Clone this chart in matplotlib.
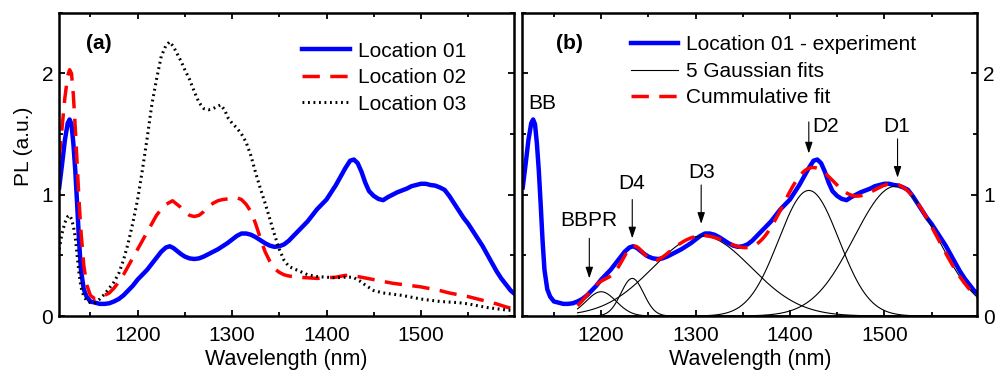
import numpy as np
import matplotlib.pyplot as plt
from matplotlib.ticker import MultipleLocator

plt.rcParams['font.family'] = ['Liberation Sans', 'DejaVu Sans']

# Location 01 (blue, same spectrum in both panels)
wl_01 = [1117, 1120, 1123, 1126, 1128, 1130, 1132, 1134, 1136, 1138, 1140, 1143, 1146, 1150,
         1155, 1160, 1165, 1170, 1175, 1180, 1185, 1190, 1195, 1200, 1205, 1210, 1215, 1220,
         1225, 1230, 1234, 1238, 1242, 1246, 1250, 1255, 1260, 1265, 1270, 1275, 1280, 1285,
         1290, 1295, 1300, 1305, 1310, 1315, 1320, 1325, 1330, 1335, 1340, 1345, 1350, 1355,
         1360, 1365, 1370, 1375, 1380, 1385, 1390, 1395, 1400, 1405, 1410, 1415, 1420, 1425,
         1429, 1433, 1437, 1441, 1445, 1450, 1455, 1460, 1465, 1470, 1475, 1480, 1485, 1490,
         1495, 1500, 1505, 1510, 1515, 1520, 1525, 1530, 1535, 1540, 1545, 1550, 1555, 1560,
         1565, 1570, 1575, 1580, 1585, 1590, 1595, 1598]
pl_01 = [1.06, 1.25, 1.45, 1.59, 1.62, 1.58, 1.42, 1.20, 0.92, 0.62, 0.38, 0.22, 0.16, 0.12,
         0.11, 0.10, 0.10, 0.105, 0.12, 0.14, 0.17, 0.21, 0.25, 0.30, 0.34, 0.38, 0.43, 0.48,
         0.53, 0.565, 0.575, 0.56, 0.535, 0.51, 0.49, 0.475, 0.47, 0.475, 0.49, 0.51, 0.53, 0.55,
         0.575, 0.60, 0.63, 0.66, 0.68, 0.68, 0.67, 0.65, 0.625, 0.60, 0.58, 0.57, 0.575, 0.59,
         0.62, 0.66, 0.70, 0.74, 0.78, 0.83, 0.88, 0.92, 0.96, 1.02, 1.08, 1.15, 1.22, 1.28,
         1.29, 1.26, 1.19, 1.10, 1.03, 0.99, 0.965, 0.955, 0.98, 1.00, 1.02, 1.035, 1.05, 1.07,
         1.08, 1.09, 1.09, 1.08, 1.075, 1.06, 1.04, 0.99, 0.93, 0.87, 0.81, 0.76, 0.70, 0.64,
         0.58, 0.51, 0.44, 0.37, 0.31, 0.26, 0.21, 0.19]

# Location 02 (red dashed)
wl_02 = [1117, 1120, 1123, 1126, 1128, 1130, 1132, 1134, 1136, 1138, 1140, 1143, 1146, 1150,
         1155, 1160, 1165, 1170, 1175, 1180, 1185, 1190, 1195, 1200, 1205, 1210, 1215, 1220,
         1225, 1230, 1237, 1245, 1250, 1255, 1260, 1265, 1270, 1275, 1280, 1285, 1290, 1295,
         1300, 1305, 1310, 1315, 1320, 1325, 1330, 1335, 1340, 1345, 1350, 1355, 1360, 1370,
         1380, 1390, 1400, 1410, 1420, 1430, 1440, 1450, 1460, 1470, 1480, 1490, 1500, 1510,
         1520, 1530, 1540, 1550, 1560, 1570, 1580, 1590, 1598]
pl_02 = [1.30, 1.55, 1.80, 1.98, 2.03, 2.00, 1.82, 1.55, 1.25, 0.95, 0.70, 0.42, 0.26, 0.17,
         0.14, 0.15, 0.17, 0.19, 0.23, 0.28, 0.34, 0.41, 0.48, 0.55, 0.62, 0.69, 0.76, 0.83,
         0.88, 0.92, 0.95, 0.90, 0.86, 0.83, 0.82, 0.83, 0.86, 0.90, 0.93, 0.95, 0.96, 0.965,
         0.97, 0.975, 0.96, 0.92, 0.86, 0.76, 0.64, 0.53, 0.45, 0.39, 0.36, 0.34, 0.33, 0.32,
         0.315, 0.31, 0.315, 0.32, 0.335, 0.33, 0.315, 0.30, 0.285, 0.27, 0.26, 0.25, 0.24, 0.225,
         0.21, 0.19, 0.175, 0.16, 0.14, 0.12, 0.10, 0.075, 0.06]

# Location 03 (black dotted)
wl_03 = [1117, 1120, 1123, 1126, 1128, 1130, 1132, 1134, 1136, 1138, 1140, 1143, 1146, 1150,
         1155, 1160, 1165, 1170, 1175, 1180, 1185, 1190, 1195, 1200, 1205, 1210, 1215, 1220,
         1225, 1230, 1234, 1238, 1242, 1246, 1250, 1255, 1260, 1265, 1270, 1275, 1280, 1285,
         1288, 1292, 1296, 1300, 1305, 1310, 1315, 1320, 1325, 1330, 1335, 1340, 1345, 1350,
         1355, 1360, 1365, 1370, 1380, 1390, 1400, 1410, 1420, 1428, 1435, 1442, 1450, 1460,
         1470, 1480, 1490, 1500, 1510, 1520, 1530, 1540, 1550, 1560, 1570, 1580, 1590, 1598]
pl_03 = [0.55, 0.68, 0.77, 0.82, 0.83, 0.80, 0.74, 0.65, 0.50, 0.35, 0.24, 0.16, 0.13, 0.11,
         0.11, 0.14, 0.18, 0.23, 0.28, 0.35, 0.46, 0.60, 0.77, 0.96, 1.20, 1.46, 1.74, 1.95,
         2.14, 2.23, 2.26, 2.22, 2.16, 2.10, 2.03, 1.95, 1.85, 1.76, 1.71, 1.70, 1.71, 1.73,
         1.74, 1.70, 1.63, 1.59, 1.55, 1.50, 1.43, 1.32, 1.18, 1.05, 0.93, 0.80, 0.67, 0.55,
         0.46, 0.41, 0.39, 0.375, 0.34, 0.325, 0.32, 0.315, 0.32, 0.32, 0.29, 0.25, 0.21, 0.19,
         0.18, 0.17, 0.155, 0.14, 0.13, 0.12, 0.115, 0.11, 0.10, 0.085, 0.07, 0.06, 0.05, 0.045]

# Gaussian fit components (panel b): BBPR, D4, D3, D2, D1
fit_names = ['BBPR', 'D4', 'D3', 'D2', 'D1']
fit_centre = [1200, 1233, 1307, 1420, 1512]
fit_height = [0.20, 0.31, 0.66, 1.035, 1.07]
fit_sigma = [16, 12, 52, 32, 44]
fit_range = [1175, 1599]

XLIM = (1116.5, 1598.5)
YLIM = (0, 2.5)
FS = 15

fig = plt.figure(figsize=(9.99, 3.72), dpi=100)
ax1 = fig.add_axes([0.0588, 0.1505, 0.4557, 0.8153])
ax2 = fig.add_axes([0.5228, 0.1505, 0.4555, 0.8153])

# panel (a)
ax1.plot(wl_01, pl_01, color='#0000ff', lw=3.2, label='Location 01')
ax1.plot(wl_02, pl_02, color='#ff0000', lw=2.5, dashes=(5, 3), label='Location 02')
ax1.plot(wl_03, pl_03, color='black', lw=2.2, dashes=(0.6, 1.2), label='Location 03')
ax1.legend(loc='upper left', bbox_to_anchor=(0.535, 0.905), frameon=False, fontsize=FS,
           handlelength=2.3, handletextpad=0.35, labelspacing=0.36, borderpad=0, borderaxespad=0)
ax1.text(0.087, 0.9, '(a)', transform=ax1.transAxes, fontsize=FS, fontweight='bold',
         ha='center', va='center')
ax1.set_ylabel('PL (a.u.)', fontsize=FS, y=0.56, labelpad=6)

# panel (b)
xs = np.linspace(fit_range[0], fit_range[1], 600)
comps = [h * np.exp(-(xs - c) ** 2 / (2 * s ** 2))
         for c, h, s in zip(fit_centre, fit_height, fit_sigma)]
ax2.plot(wl_01, pl_01, color='#0000ff', lw=3.2, label='Location 01 - experiment')
for i, g in enumerate(comps):
    ax2.plot(xs, g, color='black', lw=0.8, label='5 Gaussian fits' if i == 0 else None)
ax2.plot(xs, np.sum(comps, axis=0), color='#ff0000', lw=2.5, dashes=(5, 3),
         label='Cummulative fit')
ax2.legend(loc='upper left', bbox_to_anchor=(0.238, 0.925), frameon=False, fontsize=FS,
           handlelength=2.3, handletextpad=0.35, labelspacing=0.36, borderpad=0, borderaxespad=0)
ax2.text(0.103, 0.9, '(b)', transform=ax2.transAxes, fontsize=FS, fontweight='bold',
         ha='center', va='center')

# peak labels and arrows: (text, text x, text y, ha, arrow x, arrow top, arrow tip)
peak_marks = [
    ('BBPR', 1187, 0.79, 'center', 1187.5, 0.64, 0.31),
    ('D4', 1232.5, 1.09, 'center', 1233, 0.96, 0.64),
    ('D3', 1306, 1.18, 'center', 1306, 1.08, 0.76),
    ('D2', 1424, 1.56, 'left', 1420, 1.60, 1.34),
    ('D1', 1512.5, 1.56, 'center', 1514, 1.46, 1.14),
]
for name, tx, ty, ha, axx, y0, y1 in peak_marks:
    ax2.text(tx, ty, name, fontsize=FS, ha=ha, va='center')
    ax2.annotate('', xy=(axx, y1), xytext=(axx, y0),
                 arrowprops=dict(arrowstyle='-|>,head_length=0.45,head_width=0.15',
                                 color='black', lw=0.8, shrinkA=0, shrinkB=0,
                                 mutation_scale=15))
ax2.text(1137.5, 1.75, 'BB', fontsize=FS, ha='center', va='center')

for ax in (ax1, ax2):
    ax.set_xlim(*XLIM)
    ax.set_ylim(*YLIM)
    ax.xaxis.set_major_locator(MultipleLocator(100))
    ax.xaxis.set_minor_locator(MultipleLocator(50))
    ax.yaxis.set_major_locator(MultipleLocator(1))
    ax.yaxis.set_minor_locator(MultipleLocator(0.5))
    ax.tick_params(which='both', direction='in', top=True, right=True, width=1.3,
                   labelsize=FS, pad=4)
    ax.tick_params(axis='x', which='both', pad=7)
    ax.tick_params(which='major', length=4.5)
    ax.tick_params(which='minor', length=3)
    for sp in ax.spines.values():
        sp.set_linewidth(1.8)
    ax.set_xlabel('Wavelength (nm)', fontsize=FS + 0.5, labelpad=3)

ax2.tick_params(axis='y', labelleft=False, labelright=True)

fig.savefig('out.png', dpi=100)
